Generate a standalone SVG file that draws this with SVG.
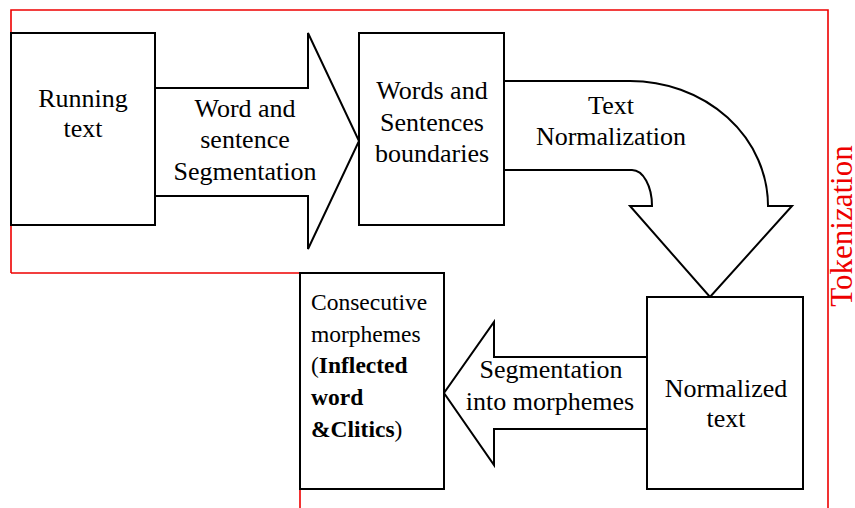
<svg xmlns="http://www.w3.org/2000/svg" width="855" height="508" viewBox="0 0 855 508">
  <style>
    .box { fill: #fff; stroke: #000; stroke-width: 2; }
    .arrow { fill: #fff; stroke: #000; stroke-width: 2; stroke-linejoin: miter; }
    .frame { fill: none; stroke: #e00; stroke-width: 1.6; }
    text { font-family: "Liberation Serif", "Times New Roman", Times, "DejaVu Serif", serif; fill: #000; }
    .lbl { font-size: 26px; text-anchor: middle; }
    .small { font-size: 23.5px; }
    .b { font-weight: bold; }
    .tok { font-size: 31px; fill: #e00; text-anchor: middle; }
  </style>
  <rect width="855" height="508" fill="#fff"/>

  <!-- Tokenization frame -->
  <g id="tokenization-frame">
    <path class="frame" d="M11,273 V10 H828 V508 M11,273 H300 V508"/>
    <text class="tok" transform="translate(852,226) rotate(-90)">Tokenization</text>
  </g>

  <!-- block arrows -->
  <g id="connectors">
    <g id="arrow-segmentation">
      <path class="arrow" d="M155,88 H308 V33 L359,141 L308,249 V196 H155"/>
      <text class="lbl" x="245" y="117">Word and</text>
      <text class="lbl" x="245" y="148">sentence</text>
      <text class="lbl" x="245" y="180">Segmentation</text>
    </g>
    <g id="arrow-normalization">
      <path class="arrow" d="M504,81 H630 A138,125 0 0 1 768,206 H792 L710,297 L630,206 H652 A20,36 0 0 0 632,170 H504"/>
      <text class="lbl" x="611" y="114">Text</text>
      <text class="lbl" x="611" y="145">Normalization</text>
    </g>
    <g id="arrow-morphemes">
      <path class="arrow" d="M647,357 H494 V322 L444,393 L494,465 V429 H647"/>
      <text class="lbl" x="551" y="378">Segmentation</text>
      <text class="lbl" x="550" y="410">into morphemes</text>
    </g>
  </g>

  <g id="running-text">
    <rect class="box" x="11" y="33" width="144" height="192"/>
    <text class="lbl" x="83" y="107">Running</text>
    <text class="lbl" x="83" y="137">text</text>
  </g>

  <g id="boundaries">
    <rect class="box" x="359" y="33" width="145" height="192"/>
    <text class="lbl" x="432" y="99">Words and</text>
    <text class="lbl" x="432" y="131">Sentences</text>
    <text class="lbl" x="432" y="162">boundaries</text>
  </g>

  <g id="normalized-text">
    <rect class="box" x="647" y="297" width="156" height="192"/>
    <text class="lbl" x="726" y="397">Normalized</text>
    <text class="lbl" x="726" y="427">text</text>
  </g>

  <g id="morphemes">
    <rect class="box" x="300" y="273" width="144" height="216"/>
    <text class="small" x="311" y="310">Consecutive</text>
    <text class="small" x="311" y="342">morphemes</text>
    <text class="small" x="311" y="373">(<tspan class="b">Inflected</tspan></text>
    <text class="small b" x="311" y="405">word</text>
    <text class="small" x="311" y="437"><tspan class="b">&amp;Clitics</tspan>)</text>
  </g>
</svg>
